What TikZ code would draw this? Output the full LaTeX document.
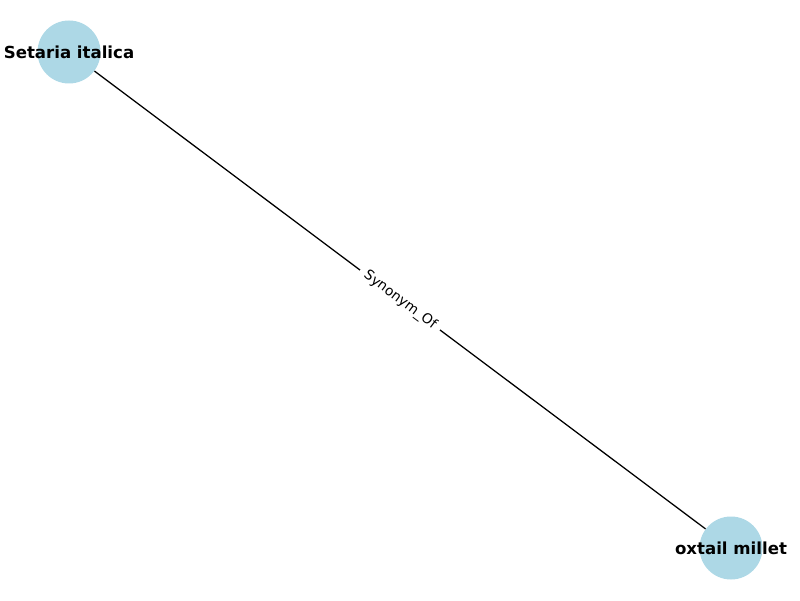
\documentclass[tikz,border=0pt]{standalone}
\usepackage{fontspec}
\setmainfont{DejaVu Sans}
\usetikzlibrary{positioning}

\definecolor{lightblue}{HTML}{ADD8E6}
\tikzset{
  term/.style={circle, draw=none, fill=lightblue, minimum size=1.575cm, inner sep=0pt},
  rel/.style={draw=black, line width=0.9pt},
}

\begin{document}
\begin{tikzpicture}
    \useasboundingbox (0,0) rectangle (20,15);

    % Term nodes with labels
    \node[term, label=center:{\fontsize{11.8}{14}\selectfont\bfseries Setaria italica}] (S1) at (1.725,13.7) {};
    \node[term, label=center:{\fontsize{11.8}{14}\selectfont\bfseries oxtail millet}] (S2) at (18.275,1.3) {};

    % Relation edge with label
    \draw[rel] (S1) -- node[sloped, midway, fill=white, inner sep=4.5pt, font=\fontsize{9.8}{12}\selectfont] {Synonym\_Of} (S2);

\end{tikzpicture}
\end{document}
